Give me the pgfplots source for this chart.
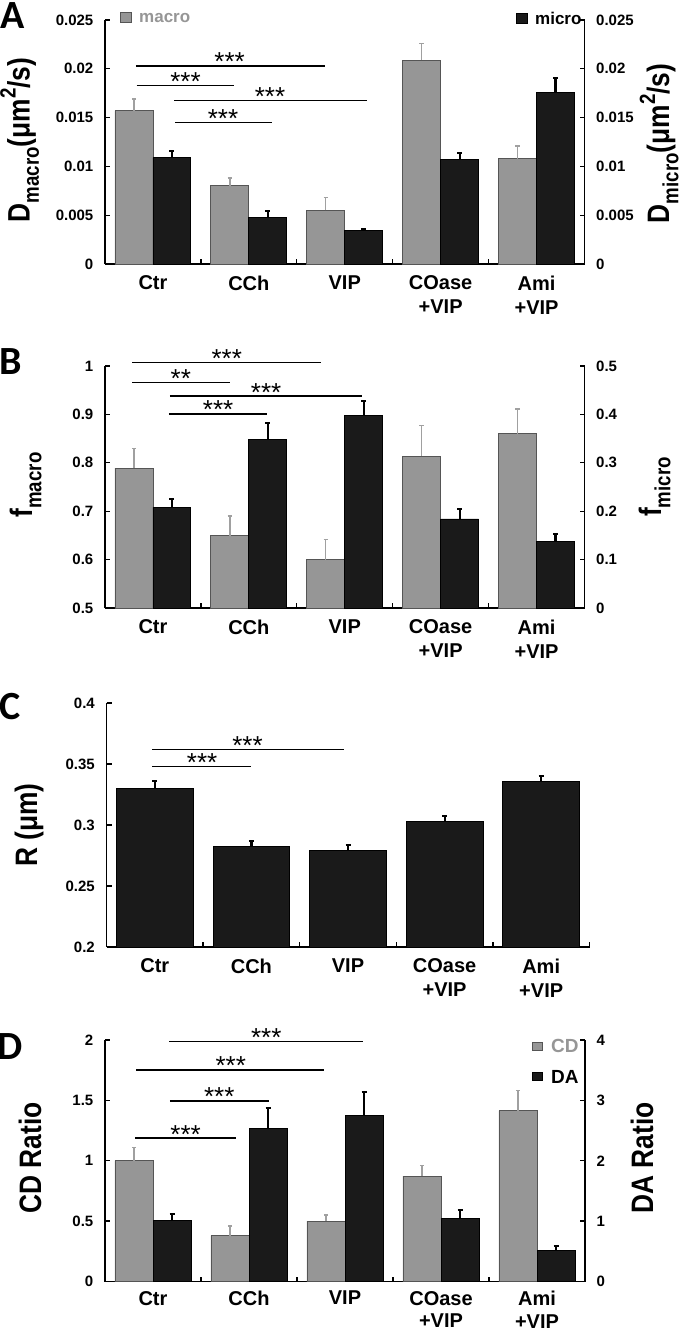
\documentclass[border=0pt]{standalone}
\usepackage{fontspec}
\setmainfont{Liberation Sans}
\newfontfamily\letterfont{Carlito}
\newfontfamily\labfont{Liberation Sans}[FakeStretch=0.85]
\usepackage{pgfplots}
\usepackage{pgfplotstable}
\pgfplotsset{compat=1.18}

\definecolor{barg}{RGB}{150,150,150}
\definecolor{bargedge}{RGB}{85,85,85}
\definecolor{barb}{RGB}{26,26,26}
\definecolor{errg}{RGB}{160,160,160}
\definecolor{txtg}{RGB}{150,150,150}

\pgfplotstableread{
x y e
0 0.0157 0.0012
1 0.0080 0.0008
2 0.0055 0.0013
3 0.0209 0.0017
4 0.0108 0.0013
}\Amacro
\pgfplotstableread{
x y e
0 0.0109 0.0007
1 0.0048 0.0006
2 0.0034 0.0002
3 0.0107 0.0007
4 0.0176 0.0015
}\Amicro
\pgfplotstableread{
x y e
0 0.789 0.040
1 0.649 0.041
2 0.600 0.042
3 0.814 0.063
4 0.860 0.051
}\Bmacro
\pgfplotstableread{
x y e
0 0.208 0.017
1 0.348 0.035
2 0.398 0.029
3 0.184 0.021
4 0.138 0.015
}\Bmicro
\pgfplotstableread{
x y e
0 0.3300 0.0060
1 0.2825 0.0043
2 0.2790 0.0043
3 0.3028 0.0047
4 0.3357 0.0043
}\Cr
\pgfplotstableread{
x y e
0 1.000 0.110
1 0.380 0.080
2 0.501 0.050
3 0.873 0.086
4 1.413 0.171
}\Dcd
\pgfplotstableread{
x y e
0 1.008 0.116
1 2.529 0.353
2 2.749 0.392
3 1.047 0.132
4 0.507 0.077
}\Dda

\tikzset{
  sig/.style={line width=1.6pt},
  stars/.style={font=\fontsize{26}{26}\selectfont, anchor=base, yshift=-5pt, inner sep=0pt},
}
\pgfplotsset{
  panel/.style={
    scale only axis,
    xmin=-0.5, xmax=4.5,
    axis x line*=bottom, axis y line*=left,
    axis line style={line width=1.6pt},
    tick align=inside,
    major tick length=5pt, minor tick length=5pt,
    every tick/.style={line width=1.3pt, black},
    xtick={0,...,4},
    xticklabels={Ctr,CCh,VIP,{COase\\+VIP},{Ami\\+VIP}},
    major x tick style={draw=none},
    minor xtick={0.5,1.5,2.5,3.5},
    xticklabel style={align=center, font=\fontsize{20}{24}\selectfont\bfseries, yshift=-8pt},
    yticklabel style={font=\fontsize{15}{15}\selectfont\bfseries, inner xsep=11.5pt},
    scaled y ticks=false,
  },
  rightax/.style={
    axis x line=none, axis y line*=right,
  },
  gbar/.style={ybar, bar width=0.396, bar shift=-0.198, fill=barg, draw=bargedge, line width=0.9pt},
  kbar/.style={ybar, bar width=0.396, bar shift=0.198, fill=barb, draw=black, line width=0.9pt},
  gerr/.style={forget plot, draw=none, mark=none,
    error bars/.cd, y dir=plus, y explicit,
    error bar style={line width=1.4pt, draw=errg},
    error mark options={line width=1.4pt, draw=errg, mark size=2.2pt, rotate=90}},
  kerr/.style={forget plot, draw=none, mark=none,
    error bars/.cd, y dir=plus, y explicit,
    error bar style={line width=2.2pt, draw=black},
    error mark options={line width=2pt, draw=black, mark size=2.5pt, rotate=90}},
}
\newcommand{\lab}{\labfont\fontsize{31}{31}\selectfont\bfseries}
\newcommand{\sub}[1]{\raisebox{-0.3em}{\fontsize{22}{22}\selectfont #1}}
\newcommand{\sqr}{\raisebox{0.45em}{\fontsize{22}{22}\selectfont 2}}

\begin{document}
\begin{tikzpicture}
\useasboundingbox (0,0) rectangle (683pt,-1331pt);

% ---------------- Panel A ----------------
\begin{axis}[panel, at={(105pt,-264pt)}, anchor=south west, width=479.5pt, height=244pt,
  ymin=0, ymax=0.025, ytick={0,0.005,0.01,0.015,0.02,0.025},
  yticklabels={0,0.005,0.01,0.015,0.02,0.025}, clip=false]
\addplot[gbar] table[x=x, y=y]{\Amacro};
\addplot[gerr] table[x expr=\thisrow{x}-0.198, y=y, y error=e]{\Amacro};
\draw[sig] (axis cs:-0.178,0.02029) -- (axis cs:1.789,0.02029);
\node[stars] at (axis cs:0.80,0.02029) {***};
\draw[sig] (axis cs:-0.169,0.01827) -- (axis cs:0.843,0.01827);
\node[stars] at (axis cs:0.34,0.01827) {***};
\draw[sig] (axis cs:0.222,0.01677) -- (axis cs:2.23,0.01677);
\node[stars] at (axis cs:1.22,0.01677) {***};
\draw[sig] (axis cs:0.23,0.01448) -- (axis cs:1.24,0.01448);
\node[stars] at (axis cs:0.73,0.01448) {***};
\end{axis}
\begin{axis}[panel, rightax, at={(105pt,-264pt)}, anchor=south west, width=479.5pt, height=244pt,
  ymin=0, ymax=0.025, ytick={0,0.005,0.01,0.015,0.02,0.025},
  yticklabels={0,0.005,0.01,0.015,0.02,0.025}, clip=false]
\addplot[kbar] table[x=x, y=y]{\Amicro};
\addplot[kerr] table[x expr=\thisrow{x}+0.198, y=y, y error=e]{\Amicro};
\end{axis}

% ---------------- Panel B ----------------
\begin{axis}[panel, at={(105pt,-608pt)}, anchor=south west, width=479.5pt, height=242pt,
  ymin=0.5, ymax=1, ytick={0.5,0.6,0.7,0.8,0.9,1},
  yticklabels={0.5,0.6,0.7,0.8,0.9,1}, clip mode=individual]
\addplot[gbar] table[x=x, y=y]{\Bmacro};
\addplot[gerr] table[x expr=\thisrow{x}-0.198, y=y, y error=e]{\Bmacro};
\draw[sig] (axis cs:-0.218,1.007) -- (axis cs:1.757,1.007);
\node[stars] at (axis cs:0.77,1.007) {***};
\draw[sig] (axis cs:-0.218,0.966) -- (axis cs:0.803,0.966);
\node[stars] at (axis cs:0.29,0.966) {**};
\draw[sig] (axis cs:0.177,0.938) -- (axis cs:2.18,0.938);
\node[stars] at (axis cs:1.18,0.938) {***};
\draw[sig] (axis cs:0.167,0.901) -- (axis cs:1.19,0.901);
\node[stars] at (axis cs:0.68,0.901) {***};
\end{axis}
\begin{axis}[panel, rightax, at={(105pt,-608pt)}, anchor=south west, width=479.5pt, height=242pt,
  ymin=0, ymax=0.5, ytick={0,0.1,0.2,0.3,0.4,0.5},
  yticklabels={0,0.1,0.2,0.3,0.4,0.5}, clip=false]
\addplot[kbar] table[x=x, y=y]{\Bmicro};
\addplot[kerr] table[x expr=\thisrow{x}+0.198, y=y, y error=e]{\Bmicro};
\end{axis}

% ---------------- Panel C ----------------
\begin{axis}[panel, at={(106.5pt,-947pt)}, anchor=south west, width=483pt, height=244pt,
  ymin=0.2, ymax=0.4, ytick={0.2,0.25,0.3,0.35,0.4},
  yticklabels={0.2,0.25,0.3,0.35,0.4}, minor xtick={0.5,1.5,2.5,3.5,4.5}]
\addplot[ybar, bar width=0.794, bar shift=0, fill=barb, draw=black, line width=0.9pt]
  table[x=x, y=y]{\Cr};
\addplot[kerr] table[x=x, y=y, y error=e]{\Cr};
\draw[sig] (axis cs:-0.025,0.362) -- (axis cs:1.954,0.362);
\node[stars] at (axis cs:0.96,0.362) {***};
\draw[sig] (axis cs:-0.025,0.348) -- (axis cs:0.995,0.348);
\node[stars] at (axis cs:0.49,0.348) {***};
\end{axis}

% ---------------- Panel D ----------------
\begin{axis}[panel, at={(105pt,-1281.5pt)}, anchor=south west, width=480pt, height=241.5pt,
  ymin=0, ymax=2, ytick={0,0.5,1,1.5,2},
  yticklabels={0,0.5,1,1.5,2}, clip=false,
  xticklabel style={font=\fontsize{20}{22.5}\selectfont\bfseries, yshift=2pt}]
\addplot[gbar] table[x=x, y=y]{\Dcd};
\addplot[gerr] table[x expr=\thisrow{x}-0.198, y=y, y error=e]{\Dcd};
\draw[sig] (axis cs:0.167,1.989) -- (axis cs:2.185,1.989);
\node[stars] at (axis cs:1.18,1.989) {***};
\draw[sig] (axis cs:-0.174,1.752) -- (axis cs:1.786,1.752);
\node[stars] at (axis cs:0.81,1.752) {***};
\draw[sig] (axis cs:0.176,1.496) -- (axis cs:1.205,1.496);
\node[stars] at (axis cs:0.69,1.496) {***};
\draw[sig] (axis cs:-0.187,1.187) -- (axis cs:0.86,1.187);
\node[stars] at (axis cs:0.34,1.187) {***};
\end{axis}
\begin{axis}[panel, rightax, at={(105pt,-1281.5pt)}, anchor=south west, width=480pt, height=241.5pt,
  ymin=0, ymax=4, ytick={0,1,2,3,4},
  yticklabels={0,1,2,3,4}, clip=false]
\addplot[kbar] table[x=x, y=y]{\Dda};
\addplot[kerr] table[x expr=\thisrow{x}+0.198, y=y, y error=e]{\Dda};
\end{axis}

% ---------------- Panel letters ----------------
\node[inner sep=0pt, font=\letterfont\fontsize{40}{40}\selectfont\bfseries] at (13pt,-16pt) {A};
\node[inner sep=0pt, font=\letterfont\fontsize{40}{40}\selectfont\bfseries] at (10.5pt,-361.5pt) {B};
\node[inner sep=0pt, font=\letterfont\fontsize{40}{40}\selectfont\bfseries] at (10.5pt,-706.5pt) {C};
\node[inner sep=0pt, font=\letterfont\fontsize{40}{40}\selectfont\bfseries] at (10.5pt,-1046.5pt) {D};

% ---------------- Axis titles ----------------
\node[rotate=90, anchor=base, inner sep=0pt] at (29.6pt,-140pt) {\lab D\sub{macro}(μm\sqr/s)};
\node[rotate=90, anchor=base, inner sep=0pt] at (669pt,-143.5pt) {\lab D\sub{micro}(μm\sqr/s)};
\node[rotate=90, anchor=base, inner sep=0pt] at (32pt,-485pt) {\lab f\sub{macro}};
\node[rotate=90, anchor=base, inner sep=0pt] at (661pt,-487pt) {\lab f\sub{micro}};
\node[rotate=90, anchor=base, inner sep=0pt] at (37pt,-825pt) {\lab R (μm)};
\node[rotate=90, anchor=base, inner sep=0pt] at (41pt,-1158pt) {\lab CD Ratio};
\node[rotate=90, anchor=base, inner sep=0pt] at (653pt,-1158pt) {\lab DA Ratio};

% ---------------- Legends ----------------
\filldraw[fill=barg, draw=bargedge, line width=0.8pt] (120pt,-12pt) rectangle (131pt,-22pt);
\node[anchor=west, inner sep=0pt, text=txtg, font=\fontsize{17}{17}\selectfont\bfseries] at (139pt,-18pt) {macro};
\filldraw[fill=barb, draw=black, line width=0.8pt] (516pt,-13pt) rectangle (527pt,-23pt);
\node[anchor=west, inner sep=0pt, font=\fontsize{17}{17}\selectfont\bfseries] at (535pt,-18pt) {micro};

\filldraw[fill=barg, draw=bargedge, line width=0.8pt] (532pt,-1042pt) rectangle (542pt,-1050pt);
\node[anchor=west, inner sep=0pt, text=txtg, font=\fontsize{19}{19}\selectfont\bfseries] at (551pt,-1046pt) {CD};
\filldraw[fill=barb, draw=black, line width=0.8pt] (532pt,-1072pt) rectangle (542pt,-1080pt);
\node[anchor=west, inner sep=0pt, font=\fontsize{19}{19}\selectfont\bfseries] at (551pt,-1077pt) {DA};
\end{tikzpicture}
\end{document}
